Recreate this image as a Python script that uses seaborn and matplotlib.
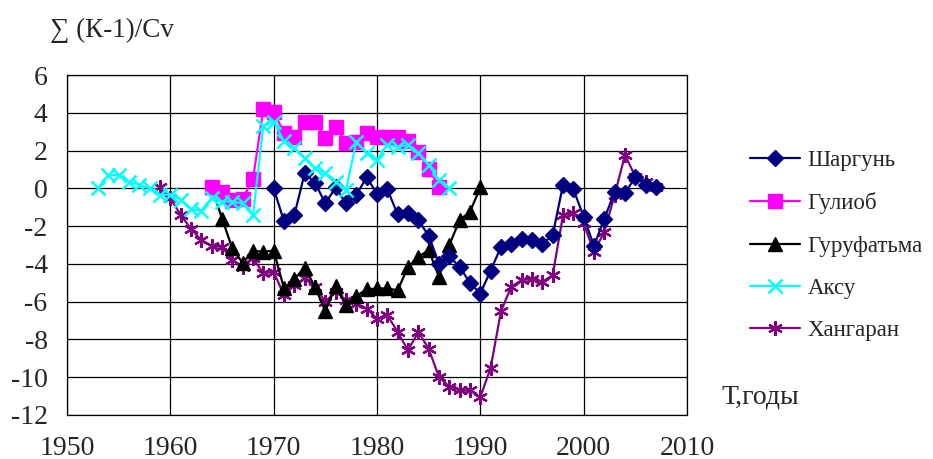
import matplotlib
matplotlib.use("Agg")
import matplotlib.pyplot as plt
import seaborn as sns
import numpy as np

sns.set_theme(style="white")
plt.rcParams['font.family'] = ['Liberation Serif', 'DejaVu Serif']
plt.rcParams['axes.unicode_minus'] = False

# ---- data ----
years_shargun = list(range(1970, 2008))
shargun = [0, -1.75, -1.42, 0.8, 0.3, -0.8, 0.05, -0.8, -0.35, 0.6,
           -0.3, -0.05, -1.38, -1.33, -1.7, -2.5, -3.98, -3.6, -4.16, -5.0,
           -5.57, -4.35, -3.1, -2.95, -2.7, -2.72, -2.95, -2.48, 0.18, -0.05,
           -1.5, -3.05, -1.6, -0.2, -0.25, 0.6, 0.2, 0.05]

years_guliob = list(range(1964, 1987))
guliob = [0.08, -0.18, -0.6, -0.55, 0.5, 4.2, 4.05, 2.95, 2.74, 3.53,
          3.53, 2.65, 3.27, 2.39, 2.45, 2.95, 2.74, 2.74, 2.7, 2.5,
          1.9, 1.05, 0.08]

years_gurufatma = list(range(1964, 1991))
gurufatma = [0.08, -1.6, -3.18, -3.95, -3.3, -3.36, -3.3, -5.3, -4.8, -4.2,
             -5.22, -6.5, -5.15, -6.2, -5.7, -5.35, -5.3, -5.3, -5.4, -4.16,
             -3.63, -3.27, -4.69, -3.0, -1.68, -1.24, 0.05]

years_aksu = list(range(1953, 1988))
aksu = [0.03, 0.7, 0.7, 0.35, 0.17, 0.0, -0.35, -0.35, -0.6, -1.1,
        -1.2, -0.5, -0.7, -0.7, -0.8, -1.42, 3.3, 3.53, 2.5, 2.12,
        1.59, 1.06, 0.8, 0.35, -0.09, 2.47, 1.86, 1.5, 2.3, 2.2,
        2.3, 1.86, 1.24, 0.44, 0.0]

years_khangaran = list(range(1959, 2008))
khangaran = [0.05, -0.53, -1.4, -2.15, -2.74, -3.05, -3.1, -3.8, -4.16, -3.71,
             -4.5, -4.42, -5.66, -5.13, -4.77, -5.22, -6.0, -5.48, -5.9, -6.1,
             -6.37, -6.9, -6.72, -7.6, -8.58, -7.6, -8.49, -9.99, -10.5, -10.7,
             -10.7, -11.05, -9.5, -6.5, -5.2, -4.86, -4.8, -4.95, -4.6, -1.42,
             -1.33, -1.86, -3.36, -2.3, -0.35, 1.77, 0.62, 0.35, 0.08]

series_names = ["Шаргунь", "Гулиоб", "Гуруфатьма", "Аксу", "Хангаран"]
x_ticks = [1950, 1960, 1970, 1980, 1990, 2000, 2010]
y_ticks = [-12, -10, -8, -6, -4, -2, 0, 2, 4, 6]

# ---- styles ----
styles = [
    dict(color="#000080", marker="D", markersize=8, mew=1),
    dict(color="#FF00FF", marker="s", markersize=9.5, mew=1),
    dict(color="#000000", marker="^", markersize=9.5, mew=1),
    dict(color="#00FFFF", marker="x", markersize=9.5, mew=1.8),
    dict(color="#800080", marker=(6, 2, 0), markersize=10.5, mew=1.6),
]
data = [(years_shargun, shargun), (years_guliob, guliob),
        (years_gurufatma, gurufatma), (years_aksu, aksu),
        (years_khangaran, khangaran)]

fig = plt.figure(figsize=(9.33, 4.59), dpi=100)
ax = fig.add_axes([67/933, 44/459, 620/933, 340/459])

draw_order = [4, 2, 0, 1, 3]
handles = {}
for i in draw_order:
    xs, ys = data[i]
    st = styles[i]
    sns.lineplot(x=xs, y=ys, ax=ax, color=st["color"], linewidth=1.6,
                 marker=st["marker"], markersize=st["markersize"],
                 markeredgewidth=st["mew"], markeredgecolor=st["color"],
                 markerfacecolor=st["color"], label=series_names[i],
                 legend=False)
    handles[i] = ax.lines[-1]

ax.set_xlim(1950, 2010)
ax.set_ylim(-12, 6)
ax.set_xticks(x_ticks)
ax.set_yticks(y_ticks)
ax.grid(True, color="black", linewidth=0.9)
ax.set_axisbelow(True)
for s in ax.spines.values():
    s.set_color("black")
    s.set_linewidth(0.9)
ax.tick_params(axis="both", which="major", direction="out", length=4,
               width=0.9, color="black", labelsize=20, pad=10)
ax.tick_params(axis="x", length=0, pad=15)
ax.set_xlabel("")
ax.set_ylabel("")

fig.text(50/933, 1 - 30/459, "∑ (К-1)/Cv", fontsize=19.5, ha="left", va="center")
fig.text(722/933, 1 - 397/459, "Т,годы", fontsize=20, ha="left", va="center")

leg = fig.legend([handles[i] for i in range(5)], series_names,
                 loc="upper left", bbox_to_anchor=(750/933, 1 - 150/459),
                 frameon=False, fontsize=16.5, handlelength=2.2,
                 labelspacing=0.93, handletextpad=0.3, borderaxespad=0,
                 borderpad=0)

fig.savefig("out.png", dpi=100)
